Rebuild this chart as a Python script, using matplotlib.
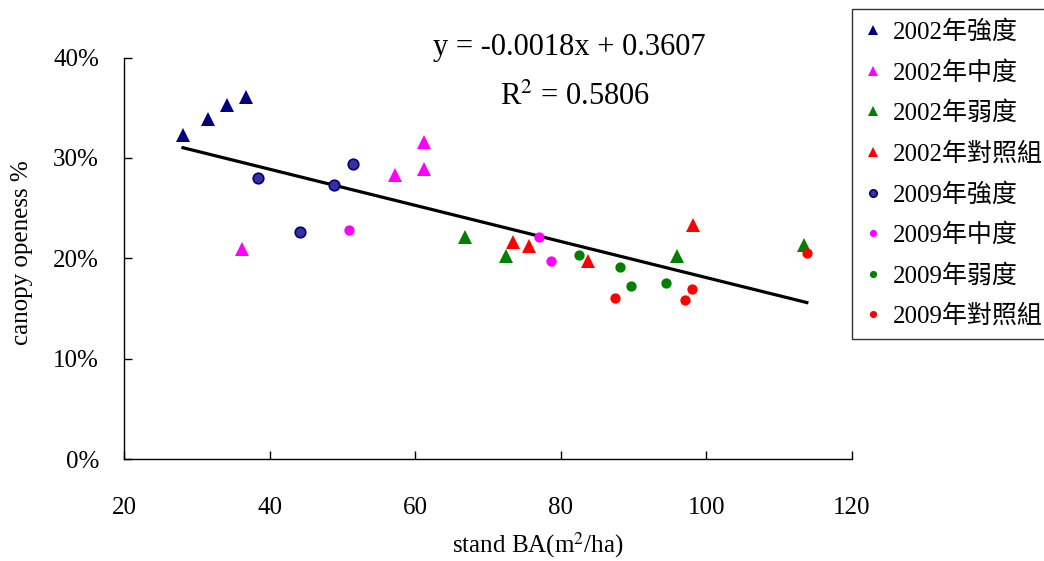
import matplotlib
matplotlib.use('Agg')
import matplotlib.pyplot as plt
import numpy as np

plt.rcParams['font.family'] = ['Liberation Serif', 'Noto Sans CJK TC']
plt.rcParams['mathtext.fontset'] = 'stix'

# stand BA (m2/ha) vs canopy openness (fraction)
ba_2002_strong = [28.1, 31.6, 34.2, 36.7]
co_2002_strong = [0.323, 0.339, 0.353, 0.361]
ba_2002_medium = [36.2, 57.2, 61.2, 61.2]
co_2002_medium = [0.209, 0.283, 0.316, 0.289]
ba_2002_weak = [66.8, 72.5, 96.0, 113.4]
co_2002_weak = [0.221, 0.202, 0.202, 0.213]
ba_2002_ctrl = [73.5, 75.7, 83.8, 98.1]
co_2002_ctrl = [0.216, 0.212, 0.197, 0.233]

ba_2009_strong = [38.4, 44.2, 48.8, 51.4]
co_2009_strong = [0.280, 0.226, 0.2725, 0.294]
ba_2009_medium = [50.9, 77.0, 78.7]
co_2009_medium = [0.228, 0.221, 0.197]
ba_2009_weak = [82.5, 88.2, 89.6, 94.4]
co_2009_weak = [0.203, 0.191, 0.172, 0.175]
ba_2009_ctrl = [87.5, 97.1, 98.0, 113.8]
co_2009_ctrl = [0.160, 0.158, 0.169, 0.205]

slope = -0.0018
intercept = 0.3607
r2 = 0.5806

fig = plt.figure(figsize=(10.44, 5.61), dpi=100)
ax = fig.add_axes([124/1044, 1 - 459/561, (852-124)/1044, (459-57.5)/561])

tri = dict(marker='^', linestyle='none', markersize=10, markeredgewidth=0)
dot = dict(marker='o', linestyle='none', markersize=7.4, markeredgewidth=0)

ax.plot(ba_2002_strong, co_2002_strong, color='#000080', label='2002年強度', **tri)
ax.plot(ba_2002_medium, co_2002_medium, color='#FF00FF', label='2002年中度', **tri)
ax.plot(ba_2002_weak, co_2002_weak, color='#008000', label='2002年弱度', **tri)
ax.plot(ba_2002_ctrl, co_2002_ctrl, color='#FF0000', label='2002年對照組', **tri)
ax.plot(ba_2009_strong, co_2009_strong, color='#333399', label='2009年強度',
        marker='o', linestyle='none', markersize=7.6, markeredgewidth=1.2,
        markeredgecolor='#000080')
ax.plot(ba_2009_medium, co_2009_medium, color='#FF00FF', label='2009年中度', **dot)
ax.plot(ba_2009_weak, co_2009_weak, color='#008000', label='2009年弱度', **dot)
ax.plot(ba_2009_ctrl, co_2009_ctrl, color='#FF0000', label='2009年對照組', **dot)

# linear trend line over the data range
allx = np.concatenate([ba_2002_strong, ba_2002_medium, ba_2002_weak, ba_2002_ctrl,
                       ba_2009_strong, ba_2009_medium, ba_2009_weak, ba_2009_ctrl])
tx = np.array([allx.min(), allx.max()])
ax.plot(tx, slope*tx + intercept, color='black', linewidth=2.3, zorder=1)

ax.set_xlim(20, 120)
ax.set_ylim(0, 0.4)
ax.set_xticks([20, 40, 60, 80, 100, 120])
ax.set_yticks([0, 0.1, 0.2, 0.3, 0.4])
ax.set_yticklabels(['0%', '10%', '20%', '30%', '40%'])
ax.spines['top'].set_visible(False)
ax.spines['right'].set_visible(False)
for s in ['left', 'bottom']:
  ax.spines[s].set_linewidth(1.0)
ax.tick_params(direction='in', length=6, width=1.0, labelsize=18)
ax.tick_params(axis='x', pad=27)
ax.tick_params(axis='y', pad=18)

fig.text(22/1044, 1 - 253/561, 'canopy openess %', rotation=90, ha='center',
         va='center', fontsize=18)
fig.text(538/1044, 1 - 545/561, 'stand BA(m$^2$/ha)', ha='center', va='center',
         fontsize=18)

fig.text(569/1044, 1 - 47/561, 'y = -0.0018x + 0.3607', ha='center', va='center',
         fontsize=22)
fig.text(575/1044, 1 - 97/561, 'R$^2$ = %.4f' % r2, ha='center', va='center',
         fontsize=22)

leg = fig.legend(loc='upper left',
                 bbox_to_anchor=(852/1044, 1 - 342/561, 0.2, (342-9)/561),
                 mode='expand', fontsize=18, frameon=True, fancybox=False,
                 markerscale=0.7, handlelength=0.8, handletextpad=0.4,
                 labelspacing=0.68, borderpad=0.45, borderaxespad=0)
leg.get_frame().set_edgecolor('black')
leg.get_frame().set_linewidth(1.0)

fig.savefig('out.png', dpi=100)
